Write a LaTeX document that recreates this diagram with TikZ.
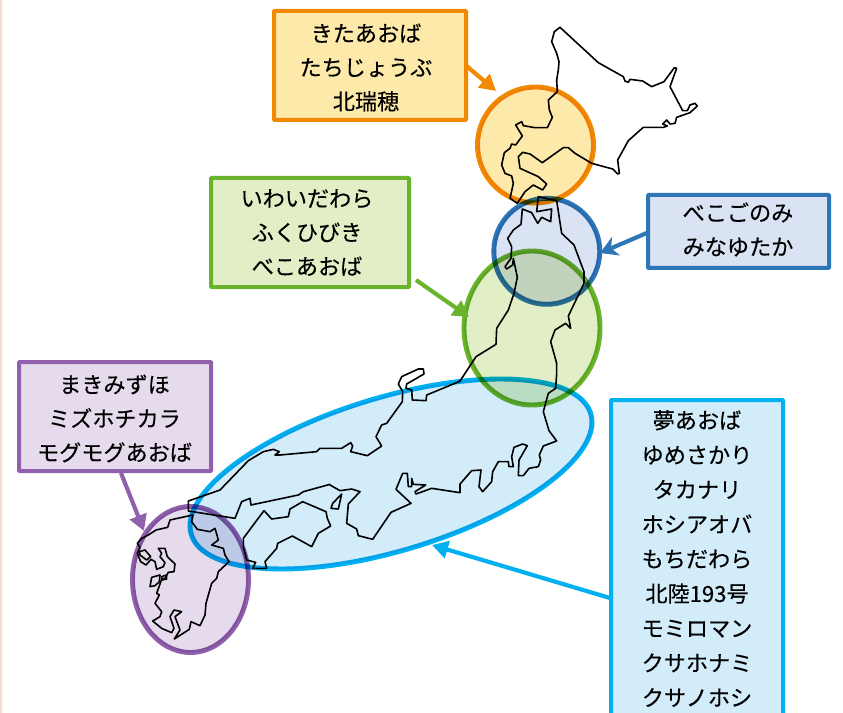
\documentclass[tikz,border=0pt]{standalone}
\usepackage{fontspec}
\setmainfont{Noto Sans CJK JP}
\newfontfamily\labelfont[FakeBold=0.25]{Noto Sans CJK JP}
\usetikzlibrary{shapes.geometric,arrows.meta}
\definecolor{cOr}{HTML}{F28A00}\definecolor{fOr}{HTML}{FDE9A9}
\definecolor{cBl}{HTML}{2E75B6}\definecolor{fBl}{HTML}{DAE3F3}
\definecolor{cGr}{HTML}{6AB42D}\definecolor{fGr}{HTML}{E2EEC6}
\definecolor{cCy}{HTML}{00B0F0}\definecolor{fCy}{HTML}{D2ECFA}
\definecolor{cPu}{HTML}{9060AC}\definecolor{fPu}{HTML}{E6DBEC}
\definecolor{cEdge}{HTML}{F0DFD2}
\tikzset{
  labelbox/.style n args={2}{draw=#1,fill=#2,line width=3pt,rectangle,rounded corners=0.6pt,outer sep=0pt,inner sep=0pt},
  labeltext/.style={inner sep=0pt,outer sep=0pt,align=center,text=black,font=\labelfont\fontsize{16.6}{25.5}\selectfont},
  region/.style n args={2}{draw=#1,fill=#2,line width=3.7pt,ellipse,outer sep=0pt,inner sep=0pt},
  pointer/.style={line width=3.1pt,-{Triangle[length=12pt,width=13pt]}},
  sweptpointer/.style={line width=3.1pt,-{Stealth[length=13pt,width=15pt,inset=4pt]}},
  coast/.style={draw=black,line width=1.2pt,line join=round,line cap=round},
  z/.style n args={2}{shift={(#1,#2)},x=.25pt,y=-.25pt}
}
\begin{document}
\begin{tikzpicture}[x=.75pt,y=-.75pt]
\useasboundingbox (0,0) rectangle (843,713);
\fill[white] (0,0) rectangle (843,713);
\fill[cEdge] (0,0) rectangle (2,713);
% regions
\begin{scope}[blend mode=multiply]
\node[region={cCy}{fCy},minimum width=313pt,minimum height=115pt,rotate=16.8] (rKanto) at (391,474) {};
\node[region={cOr}{fOr},minimum width=87pt,minimum height=87pt] (rHokkaido) at (535.5,145) {};
\node[region={cBl}{fBl},minimum width=79.5pt,minimum height=79.5pt] (rTohokuN) at (546.8,251.3) {};
\node[region={cGr}{fGr},minimum width=102pt,minimum height=115.5pt] (rTohokuS) at (532,328) {};
\node[region={cPu}{fPu},minimum width=87pt,minimum height=109.5pt] (rKyushu) at (190.5,579.5) {};
\end{scope}
% map
\begin{scope}[z={460}{20}]
\draw[coast] (300,22)--(283,35)--(275,65)--(290,100)--(297,125)--(295,150)--(290,180)--(292,215)--(265,240)--(268,270)--(277,292)--(262,323)--(225,323)--(190,317)--(185,305)--(167,315)--(187,348)--(167,375)--(155,372)--(150,385)--(133,398)--(125,435)--(135,460)--(155,468)--(160,490)--(150,535)--(172,550)--(195,515)--(220,495)--(248,510)--(260,492)--(235,470)--(180,445)--(175,410)--(188,397)--(210,402)--(247,428)--(310,383)--(325,383)--(345,400)--(395,430)--(458,447)--(473,462)--(478,460)--(473,420)--(505,362)--(550,322)--(610,322)--(622,318)--(608,312)--(620,300)--(630,312)--(645,310)--(650,292)--(690,278)--(712,258)--(705,250)--(690,255)--(682,272)--(668,272)--(630,200)--(650,145)--(643,143)--(612,185)--(575,200)--(548,183)--(510,178)--(505,187)--(495,183)--(490,170)--(415,128)--cycle;
\end{scope}
\begin{scope}[z={440}{190}]
\draw[coast] (350,520)--(332,455)--(345,420)--(377,400)--(392,415)--(385,378)--(432,280)--(432,245)--(402,165)--(365,130)--(350,32)--(295,20)--(290,65)--(335,57)--(332,95)--(305,82)--(293,100)--(275,68)--(247,57)--(243,103)--(220,120)--(203,145)--(215,170)--(213,205)--(195,230)--(200,237)--(218,225)--(220,205)--(232,262)--(222,310)--(205,360)--(170,415)--(168,463)--(108,500)--(85,535)--(60,573);
\end{scope}
\begin{scope}[z={330}{360}]
\draw[coast] (390,63)--(375,70)--(290,105)--(288,122)--(247,120)--(245,90)--(228,85)--(230,72)--(282,42)--(280,27)--(265,27)--(215,50)--(205,72)--(218,95)--(217,125)--(170,190)--(155,195)--(138,230)--(155,258)--(112,287)--(62,275)--(68,258)--(62,248)--(35,265)--(0,265);
\draw[coast] (0,375)--(30,392)--(65,387)--(90,395)--(55,432)--(50,490)--(80,507)--(85,527)--(128,538)--(183,457)--(243,430)--(198,388)--(218,340)--(232,340)--(235,380)--(245,380)--(245,355)--(250,373)--(287,375)--(255,395)--(258,402)--(305,385)--(390,398)--(390,372)--(425,332)--(453,330)--(447,380)--(458,395)--(485,365)--(488,335)--(505,305)--(535,305)--(537,320)--(550,320)--(545,290)--(552,262)--(578,252)--(592,257)--(567,300)--(565,347)--(580,347)--(597,325)--(625,320)--(632,300)--(628,285)--(640,258)--(680,243)--(657,212)--(640,155)--(655,100)--(677,85)--(680,40)--(680,10);
\draw[coast] (35,402)--(8,430)--(3,445)--(25,447)--cycle;
\end{scope}
\begin{scope}[z={120}{440}]
\draw[coast] (630,25)--(600,25)--(590,35)--(480,45)--(465,45)--(478,35)--(460,28)--(430,35)--(385,62)--(300,150)--(205,183)--(205,213)--(345,235)--(365,185)--(390,175)--(393,195)--(535,165)--(550,155)--(630,133);
% Shikoku
\draw[coast] (370,295)--(432,212)--(455,237)--(505,230)--(510,207)--(548,185)--(618,215)--(622,235)--(632,258)--(595,280)--(575,320)--(517,288)--(473,310)--(470,325)--(435,365)--(440,385)--(398,385)--(407,367)--(380,360)--(370,320)--cycle;
% Kyushu
\draw[coast] (218,225)--(150,240)--(143,262)--(108,270)--(85,285)--(65,295)--(52,310)--(60,322)--(52,340)--(62,365)--(78,375)--(93,358)--(105,365)--(110,388)--(130,380)--(135,368)--(120,350)--(125,340)--(115,325)--(135,325)--(142,350)--(165,372)--(162,395)--(145,397)--(135,415)--(125,418)--(110,460)--(118,465)--(105,490)--(125,515)--(120,530)--(98,543)--(125,565)--(155,578)--(162,565)--(150,530)--(162,510)--(185,515)--(165,530)--(180,570)--(163,597)--(208,568)--(213,545)--(240,557)--(255,525)--(258,490)--(275,430)--(290,415)--(295,395)--(327,365)--(315,345)--(310,325)--(275,315)--(295,300)--(285,265)--(270,275)--(232,268)--(215,245)--cycle;
\draw[coast] (58,335)--(75,330)--(92,350)--(80,360)--(60,345)--cycle;
\draw[coast] (90,440)--(95,412)--(120,405)--(118,425)--(105,437)--cycle;
\draw[coast] (125,410)--(140,405)--(140,417)--(127,420)--cycle;
\end{scope}
% label boxes
\node[labelbox={cOr}{fOr},minimum width=144pt,minimum height=81.75pt] (bOr) at (370,65.5) {};
\node[labelbox={cGr}{fGr},minimum width=148.5pt,minimum height=81.75pt] (bGr) at (310,232.5) {};
\node[labelbox={cBl}{fBl},minimum width=135.75pt,minimum height=54.75pt] (bBl) at (738.5,231.5) {};
\node[labelbox={cPu}{fPu},minimum width=144pt,minimum height=81.75pt] (bPu) at (115,416.5) {};
\node[labelbox={cCy}{fCy},minimum width=129pt,minimum height=238.5pt] (bCy) at (697,559) {};
\node[labeltext] (tbOr) at (366,67.5) {きたあおば\\たちじょうぶ\\北瑞穂};
\node[labeltext] (tbGr) at (307,232.5) {いわいだわら\\ふくひびき\\べこあおば};
\node[labeltext] (tbBl) at (738,229.5) {べこごのみ\\みなゆたか};
\node[labeltext] (tbPu) at (114.5,418.5) {まきみずほ\\ミズホチカラ\\モグモグあおば};
\node[labeltext,font=\labelfont\fontsize{16.6}{26}\selectfont] (tbCy) at (697,558.5) {夢あおば\\ゆめさかり\\タカナリ\\ホシアオバ\\もちだわら\\北陸193号\\モミロマン\\クサホナミ\\クサノホシ};
% pointers
\coordinate (tOr) at (496,91);
\coordinate (tBl) at (600,253);
\coordinate (sGr) at (416,280);
\coordinate (tGr) at (469,317);
\coordinate (sPu) at (121,473);
\coordinate (tPu) at (144,531);
\coordinate (sCy) at (610,598);
\coordinate (tCy) at (432,545);
\draw[pointer,cOr] (bOr.east) -- (tOr);
\draw[sweptpointer,cBl] (bBl.west) ++(0,1) -- (tBl);
\draw[pointer,cGr] (sGr) -- (tGr);
\draw[pointer,cPu] (sPu) -- (tPu);
\draw[pointer,cCy] (sCy) -- (tCy);
\end{tikzpicture}
\end{document}
